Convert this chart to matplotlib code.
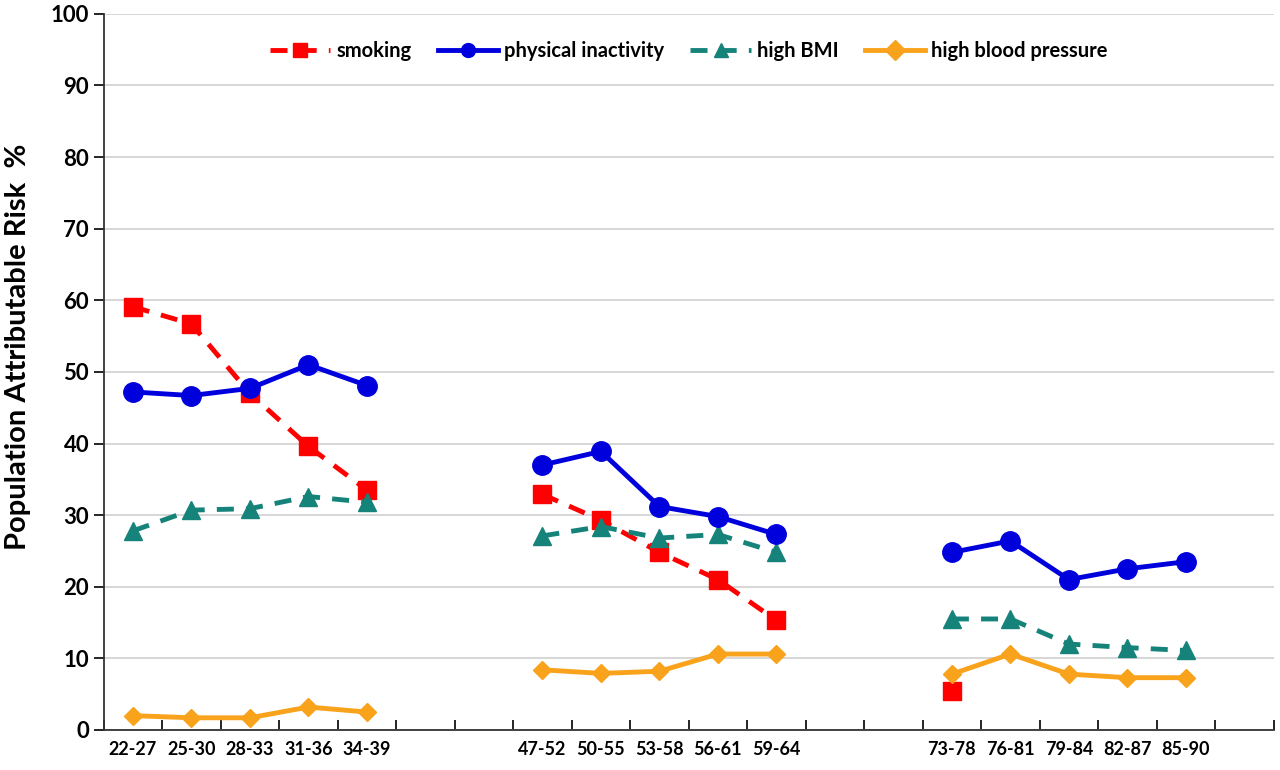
import numpy as np
import matplotlib.pyplot as plt

nan = np.nan

# 20 category slots; blank slots separate the three age groups
age_labels = ['22-27', '25-30', '28-33', '31-36', '34-39', '', '',
              '47-52', '50-55', '53-58', '56-61', '59-64', '', '',
              '73-78', '76-81', '79-84', '82-87', '85-90', '']

smoking = [59.1, 56.7, 47.0, 39.6, 33.5, nan, nan,
           32.9, 29.3, 24.8, 21.0, 15.3, nan, nan,
           5.5, nan, nan, nan, nan, nan]
physical_inactivity = [47.2, 46.7, 47.7, 51.0, 48.1, nan, nan,
                       37.0, 38.9, 31.2, 29.8, 27.3, nan, nan,
                       24.8, 26.4, 21.0, 22.5, 23.5, nan]
high_bmi = [27.8, 30.7, 30.9, 32.6, 31.8, nan, nan,
            27.1, 28.4, 26.8, 27.3, 24.8, nan, nan,
            15.5, 15.5, 12.0, 11.5, 11.1, nan]
high_bp = [2.0, 1.7, 1.7, 3.2, 2.5, nan, nan,
           8.4, 7.9, 8.2, 10.6, 10.6, nan, nan,
           7.8, 10.6, 7.8, 7.3, 7.3, nan]

plt.rcParams['font.family'] = ['Lato', 'DejaVu Sans']

fig = plt.figure(figsize=(12.8, 7.7), dpi=100)
ax = fig.add_axes([0.081, 0.052, 0.914, 0.930])

x = np.arange(len(age_labels))

ax.plot(x, smoking, color='#ff0000', linestyle=(0, (3.5, 2.5)), linewidth=3.5,
        marker='s', markersize=13, label='smoking', zorder=3)
ax.plot(x, physical_inactivity, color='#0000dd', linestyle='-', linewidth=3.5,
        marker='o', markersize=14, label='physical inactivity', zorder=4)
ax.plot(x, high_bmi, color='#16837a', linestyle=(0, (3.5, 2.5)), linewidth=3.5,
        marker='^', markersize=13, label='high BMI', zorder=3)
ax.plot(x, high_bp, color='#f9a21b', linestyle='-', linewidth=3.5,
        marker='D', markersize=9, label='high blood pressure', zorder=3)

ax.set_xlim(-0.5, len(age_labels) - 0.5)
ax.set_ylim(0, 100)
ax.set_yticks(np.arange(0, 101, 10))
ax.yaxis.grid(True, color='#d0d0d0', linewidth=1.2)
ax.set_axisbelow(True)

# tick marks at slot boundaries, labels at slot centres
ax.set_xticks(np.arange(-0.5, len(age_labels) + 0.5, 1))
ax.set_xticklabels([])
ax.set_xticks(x, minor=True)
ax.set_xticklabels(age_labels, minor=True, fontsize=13, fontweight='bold')
ax.tick_params(axis='x', which='minor', length=0, pad=8)
ax.tick_params(axis='x', which='major', length=7, direction='in', width=1.2)
ax.tick_params(axis='y', length=7, direction='out', width=1.2, labelsize=16)
for lab in ax.get_yticklabels():
    lab.set_fontweight('bold')

for s in ['top', 'right']:
    ax.spines[s].set_visible(False)
for s in ['left', 'bottom']:
    ax.spines[s].set_color('#333333')
    ax.spines[s].set_linewidth(1.3)

ax.set_ylabel('Population Attributable Risk  %', fontsize=21, fontweight='bold')
ax.yaxis.set_label_coords(-0.062, 0.535)

leg = ax.legend(loc='upper center', bbox_to_anchor=(0.5, 0.988), ncol=4, frameon=False,
                handlelength=3.0, columnspacing=1.3, handletextpad=0.3,
                prop={'size': 14.5, 'weight': 'bold'})
for h in leg.legend_handles:
    h.set_markersize(10)

fig.savefig('out.png', dpi=100)
